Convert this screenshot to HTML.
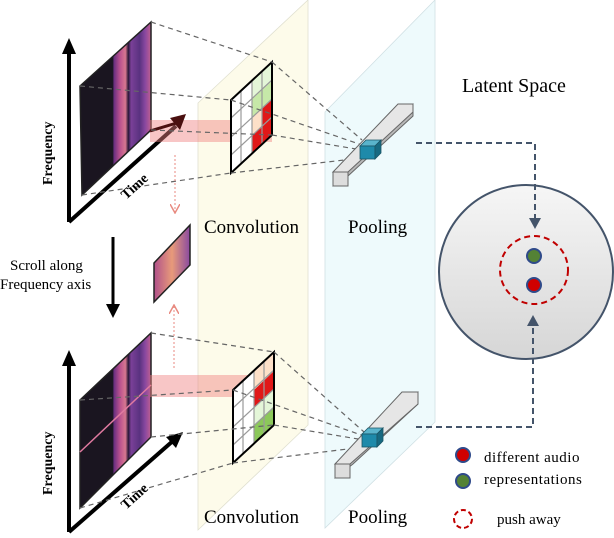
<!DOCTYPE html>
<html><head><meta charset="utf-8"><style>body{margin:0;background:#fff}svg{display:block}text{font-family:"Liberation Serif",serif}</style></head><body>
<svg width="614" height="538" viewBox="0 0 614 538" xmlns="http://www.w3.org/2000/svg">
<defs>
<linearGradient id="spec" x1="0" x2="1" y1="0" y2="0">
<stop offset="0" stop-color="#1a1520"/><stop offset="0.46" stop-color="#1a1520"/><stop offset="0.48" stop-color="#6a3080"/><stop offset="0.56" stop-color="#b8508e"/><stop offset="0.64" stop-color="#d87890"/><stop offset="0.68" stop-color="#2a1838"/><stop offset="0.72" stop-color="#7a4098"/><stop offset="0.84" stop-color="#5a3280"/><stop offset="0.92" stop-color="#8a48a0"/><stop offset="1" stop-color="#c06090"/>
</linearGradient>
<linearGradient id="small" x1="0" x2="1"><stop offset="0" stop-color="#b0508a"/><stop offset="0.5" stop-color="#e89a7a"/><stop offset="1" stop-color="#8a4aa0"/></linearGradient>
<linearGradient id="lat" x1="0" x2="0" y1="0" y2="1"><stop offset="0" stop-color="#f6f6f6"/><stop offset="1" stop-color="#d6d6d6"/></linearGradient>
<marker id="ap" markerWidth="10" markerHeight="10" refX="8" refY="5" orient="auto" markerUnits="userSpaceOnUse"><path d="M0,0 L9,5 L0,10" fill="none" stroke="#e88a80" stroke-width="1.5"/></marker>
</defs>
<polygon points="198,103 308,0 308,425 198,530" fill="#fdfbea" stroke="#e0e0d0" stroke-width="0.8"/>
<polygon points="325,112 435,0 435,422 325,528" fill="#eefafc" stroke="#d0e0e4" stroke-width="0.8"/>

<line x1="69" y1="222" x2="69" y2="52" stroke="#000" stroke-width="4"/>
<polygon points="62,54 69,38 76,54" fill="#000"/>
<line x1="69" y1="222" x2="176" y2="126" stroke="#000" stroke-width="4"/>
<polygon points="80,86 151,22 151,130 82,195" fill="url(#spec)" stroke="#222" stroke-width="1.5"/>
<polygon points="150,120 272,120 272,142 150,142" fill="#f08080" opacity="0.45"/>
<polygon points="170,118 186,114 180,130" fill="#4a1010"/>
<line x1="150" y1="131" x2="180" y2="122" stroke="#4a1010" stroke-width="3"/>
<polygon points="231,100 272,62 272,135 231,173" fill="#fff"/>
<polygon points="252,81 272,62 272,81 252,99" fill="#e4f6d8"/>
<polygon points="252,99 272,81 272,99 252,118" fill="#c6e8a8"/>
<polygon points="252,118 272,99 272,117 252,136" fill="#fde0c8"/>
<polygon points="252,136 262,127 262,108 272,99 272,117 272,135 252,154" fill="#e01818"/>
<g stroke="#999" stroke-width="1.2"><line x1="241" y1="91" x2="241" y2="164"/><line x1="252" y1="81" x2="252" y2="154"/><line x1="262" y1="72" x2="262" y2="145"/>
<line x1="231" y1="118" x2="272" y2="80"/><line x1="231" y1="137" x2="272" y2="99"/><line x1="231" y1="155" x2="272" y2="117"/></g>
<polygon points="231,100 272,62 272,135 231,173" fill="none" stroke="#000" stroke-width="2"/>

<g stroke="#666" stroke-width="1.2" stroke-dasharray="5,4" fill="none">
<line x1="151" y1="22" x2="272" y2="62"/><line x1="80" y1="86" x2="231" y2="100"/><line x1="82" y1="195" x2="231" y2="173"/><line x1="151" y1="130" x2="272" y2="135"/>
<line x1="272" y1="62" x2="362" y2="140"/><line x1="231" y1="100" x2="362" y2="145"/><line x1="272" y1="135" x2="362" y2="150"/><line x1="231" y1="173" x2="362" y2="158"/>
</g>
<line x1="175" y1="155" x2="175" y2="212" stroke="#e88a80" stroke-width="1" stroke-dasharray="2,2" marker-end="url(#ap)"/>

<polygon points="333,172 398,112 413,104 413,116 348,176 333,186" fill="#b8b8b8" stroke="#666"/>
<polygon points="333,172 348,172 413,112 413,104 398,104" fill="#e6e6e6" stroke="#666"/>
<polygon points="333,172 348,172 348,186 333,186" fill="#ddd" stroke="#666"/>
<polygon points="360,146 366,140 381,140 375,146" fill="#5ab4cc" stroke="#1a5566" stroke-width="0.8"/>
<rect x="360" y="146" width="15" height="13" fill="#1e8aaa" stroke="#1a5566" stroke-width="0.8"/>
<polygon points="375,146 381,140 381,153 375,159" fill="#176a82" stroke="#1a5566" stroke-width="0.8"/>

<text x="204" y="233" font-size="19">Convolution</text>
<text x="348" y="233" font-size="19">Pooling</text>
<text x="462" y="92" font-size="20">Latent Space</text>

<text transform="translate(52,185) rotate(-90)" font-size="14" font-weight="bold">Frequency</text>
<text transform="translate(126,200) rotate(-42)" font-size="14" font-weight="bold">Time</text>

<text x="10" y="270" font-size="15">Scroll along</text>
<text x="0" y="289" font-size="15">Frequency axis</text>
<line x1="113" y1="237" x2="113" y2="305" stroke="#000" stroke-width="3"/>
<polygon points="106,304 113,318 120,304" fill="#000"/>
<polygon points="154,263 190,225 190,265 154,302" fill="url(#small)" stroke="#222" stroke-width="1.5"/>

<line x1="69" y1="532" x2="69" y2="364" stroke="#000" stroke-width="4"/>
<polygon points="62,366 69,350 76,366" fill="#000"/>
<line x1="69" y1="532" x2="174" y2="440" stroke="#000" stroke-width="4"/>
<polygon points="166,437 183,432 176,448" fill="#000"/>
<polygon points="80,400 151,333 151,437 80,508" fill="url(#spec)" stroke="#222" stroke-width="1.5"/>
<line x1="80" y1="452" x2="151" y2="385" stroke="#e07aa0" stroke-width="1.5"/>
<polygon points="150,375 264,375 264,397 150,397" fill="#f08080" opacity="0.45"/>
<line x1="174" y1="368" x2="174" y2="306" stroke="#e88a80" stroke-width="1" stroke-dasharray="2,2" marker-end="url(#ap)"/>

<polygon points="233,390 274,352 274,425 233,463" fill="#fff"/>
<polygon points="254,371 274,352 274,371 254,390" fill="#fde0c8"/>
<polygon points="254,390 274,371 274,389 254,408" fill="#e01818"/>
<polygon points="254,408 274,389 274,407 254,426" fill="#e4f6d8"/>
<polygon points="254,426 274,407 274,425 254,444" fill="#8cc85a"/>
<g stroke="#999" stroke-width="1.2"><line x1="243" y1="381" x2="243" y2="454"/><line x1="254" y1="371" x2="254" y2="444"/><line x1="264" y1="362" x2="264" y2="435"/>
<line x1="233" y1="408" x2="274" y2="370"/><line x1="233" y1="427" x2="274" y2="389"/><line x1="233" y1="445" x2="274" y2="407"/></g>
<polygon points="233,390 274,352 274,425 233,463" fill="none" stroke="#000" stroke-width="2"/>
<g stroke="#666" stroke-width="1.2" stroke-dasharray="5,4" fill="none">
<line x1="151" y1="333" x2="274" y2="352"/><line x1="80" y1="400" x2="233" y2="390"/><line x1="80" y1="508" x2="233" y2="463"/><line x1="151" y1="437" x2="274" y2="425"/>
<line x1="274" y1="352" x2="364" y2="432"/><line x1="233" y1="390" x2="364" y2="436"/><line x1="274" y1="425" x2="364" y2="440"/><line x1="233" y1="463" x2="364" y2="447"/>
</g>
<polygon points="335,464 400,404 418,392 418,404 353,464 335,478" fill="#b8b8b8" stroke="#666"/>
<polygon points="335,464 350,464 418,404 418,392 402,392" fill="#e6e6e6" stroke="#666"/>
<polygon points="335,464 350,464 350,478 335,478" fill="#ddd" stroke="#666"/>
<polygon points="362,434 368,428 383,428 377,434" fill="#5ab4cc" stroke="#1a5566" stroke-width="0.8"/>
<rect x="362" y="434" width="15" height="13" fill="#1e8aaa" stroke="#1a5566" stroke-width="0.8"/>
<polygon points="377,434 383,428 383,441 377,447" fill="#176a82" stroke="#1a5566" stroke-width="0.8"/>

<text transform="translate(52,495) rotate(-90)" font-size="14" font-weight="bold">Frequency</text>
<text transform="translate(126,510) rotate(-42)" font-size="14" font-weight="bold">Time</text>
<text x="204" y="523" font-size="19">Convolution</text>
<text x="348" y="523" font-size="19">Pooling</text>

<circle cx="526" cy="272" r="87" fill="url(#lat)" stroke="#44546a" stroke-width="2"/>
<circle cx="534" cy="270" r="34" fill="none" stroke="#c00000" stroke-width="2" stroke-dasharray="6,4"/>
<circle cx="534" cy="256" r="7" fill="#548235" stroke="#2f4a8a" stroke-width="2"/>
<circle cx="534" cy="285" r="7" fill="#d00000" stroke="#2f4a8a" stroke-width="2"/>
<polyline points="416,143 535,143 535,222" fill="none" stroke="#44546a" stroke-width="2" stroke-dasharray="6,4"/>
<polygon points="529,218 535,229 541,218" fill="#44546a"/>
<polyline points="416,427 533,427 533,320" fill="none" stroke="#44546a" stroke-width="2" stroke-dasharray="6,4"/>
<polygon points="527,326 533,315 539,326" fill="#44546a"/>

<circle cx="463" cy="455" r="7" fill="#d00000" stroke="#2f4a8a" stroke-width="2"/>
<circle cx="463" cy="481" r="7" fill="#548235" stroke="#2f4a8a" stroke-width="2"/>
<circle cx="463" cy="519" r="9" fill="none" stroke="#c00000" stroke-width="2" stroke-dasharray="5,3"/>
<text x="484" y="462" font-size="15" letter-spacing="0.5">different audio</text>
<text x="484" y="484" font-size="15" letter-spacing="0.5">representations</text>
<text x="497" y="524" font-size="15">push  away</text>
</svg>
</body></html>
